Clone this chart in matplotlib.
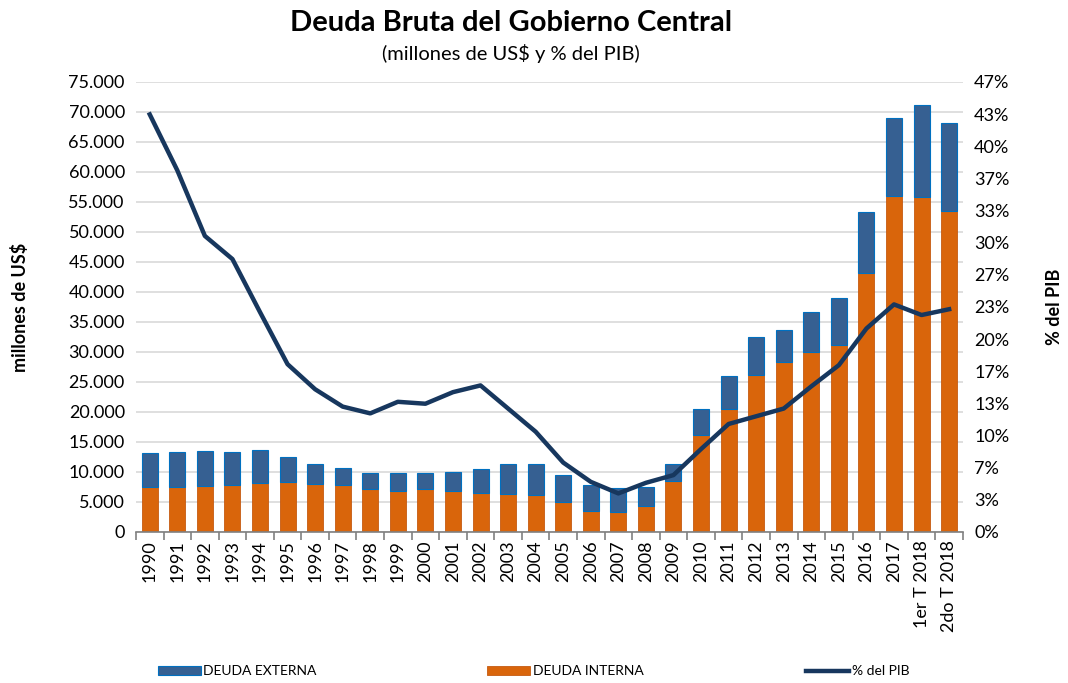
import matplotlib.pyplot as plt
import numpy as np
from matplotlib.ticker import FuncFormatter, MultipleLocator

plt.rcParams['font.family'] = ['Lato', 'DejaVu Sans']

years = ["1990", "1991", "1992", "1993", "1994", "1995", "1996", "1997", "1998", "1999",
         "2000", "2001", "2002", "2003", "2004", "2005", "2006", "2007", "2008", "2009",
         "2010", "2011", "2012", "2013", "2014", "2015", "2016", "2017",
         "1er T 2018", "2do T 2018"]

# deuda total (interna + externa) y deuda interna, millones de US$
deuda_total = [13170, 13380, 13550, 13280, 13670, 12560, 11280, 10610, 9780, 9780,
               9780, 10060, 10440, 11280, 11280, 9500, 7830, 7280, 7440, 11280,
               20440, 26060, 32500, 33610, 36670, 39060, 53330, 68940, 71170, 68220]
deuda_interna = [7500, 7450, 7670, 7830, 8110, 8390, 7940, 7830, 7170, 6890,
                 7110, 6890, 6440, 6330, 6170, 5060, 3500, 3390, 4390, 8500,
                 16170, 20500, 26220, 28280, 29940, 31110, 43220, 56000, 55890, 53500]
pct_pib = [43.3, 37.5, 30.7, 28.3, 22.8, 17.4, 14.8, 13.0, 12.3, 13.5,
           13.3, 14.5, 15.2, 12.8, 10.4, 7.2, 5.2, 4.0, 5.1, 5.9,
           8.6, 11.2, 12.0, 12.8, 15.1, 17.3, 21.1, 23.6, 22.5, 23.1]

deuda_externa = [t - i for t, i in zip(deuda_total, deuda_interna)]

c_ext = "#366092"
c_int = "#D9650B"
c_line = "#17375E"

fig = plt.figure(figsize=(10.68, 6.83), dpi=100)
ax = fig.add_axes([0.1273, 0.2211, 0.7743, 0.6589])
x = np.arange(len(years))

b_int = ax.bar(x, deuda_interna, width=0.58, color=c_int, edgecolor="#C55A11",
               linewidth=0.6, label="DEUDA INTERNA", zorder=2)
b_ext = ax.bar(x, deuda_externa, bottom=deuda_interna, width=0.58, color=c_ext,
               edgecolor="#0070C0", linewidth=0.8, label="DEUDA EXTERNA", zorder=2)

ax.set_xlim(-0.5, len(years) - 0.5)
ax.set_ylim(0, 75000)
ax.yaxis.set_major_locator(MultipleLocator(5000))
ax.yaxis.set_major_formatter(FuncFormatter(lambda v, p: f"{int(v):,}".replace(",", ".")))
ax.grid(axis="y", color="#D9D9D9", linewidth=1.2, zorder=0)
ax.set_axisbelow(True)
for s in ["top", "right", "left"]:
    ax.spines[s].set_visible(False)
ax.spines["bottom"].set_color("#808080")
ax.spines["bottom"].set_linewidth(1.2)

ax.set_xticks(x)
ax.set_xticklabels(years, rotation=90, fontsize=13)
ax.tick_params(axis="x", which="major", length=0, pad=6)
ax.set_xticks(np.arange(-0.5, len(years), 1), minor=True)
ax.tick_params(axis="x", which="minor", length=6, color="#808080", width=1.2)
ax.tick_params(axis="y", length=0, labelsize=13, pad=8)
ax.set_ylabel("millones de US$", fontsize=13, fontweight="bold")
ax.yaxis.set_label_coords(-0.129, 0.5)

ax2 = ax.twinx()
line, = ax2.plot(x, [p / 100 for p in pct_pib], color=c_line, linewidth=3.2,
                 label="% del PIB", zorder=3, solid_joinstyle="round")
ax2.set_ylim(0, 0.46667)
ax2.set_yticks(np.arange(15) * 0.46667 / 14)
ax2.yaxis.set_major_formatter(FuncFormatter(lambda v, p: f"{v * 100:.0f}%"))
ax2.tick_params(axis="y", length=0, labelsize=13, pad=8)
for s in ["top", "right", "left", "bottom"]:
    ax2.spines[s].set_visible(False)
ax2.set_ylabel("% del PIB", fontsize=13, fontweight="bold", rotation=90)
ax2.yaxis.set_label_coords(1.101, 0.5)

fig.text(0.4785, 0.966, "Deuda Bruta del Gobierno Central", ha="center", va="center",
         fontsize=21, fontweight="bold")
fig.text(0.4785, 0.922, "(millones de US$ y % del PIB)", ha="center", va="center",
         fontsize=14.5)

handles = [b_ext, b_int, line]
labels = ["DEUDA EXTERNA", "DEUDA INTERNA", "% del PIB"]
x_pos = [0.1475, 0.456, 0.755]
for h, lab, xp in zip(handles, labels, x_pos):
    fig.legend([h], [lab], loc="center left", bbox_to_anchor=(xp, 0.017),
               frameon=False, fontsize=10, handlelength=3.1, handletextpad=0.2,
               borderpad=0, borderaxespad=0)

fig.savefig("out.png", dpi=100)
